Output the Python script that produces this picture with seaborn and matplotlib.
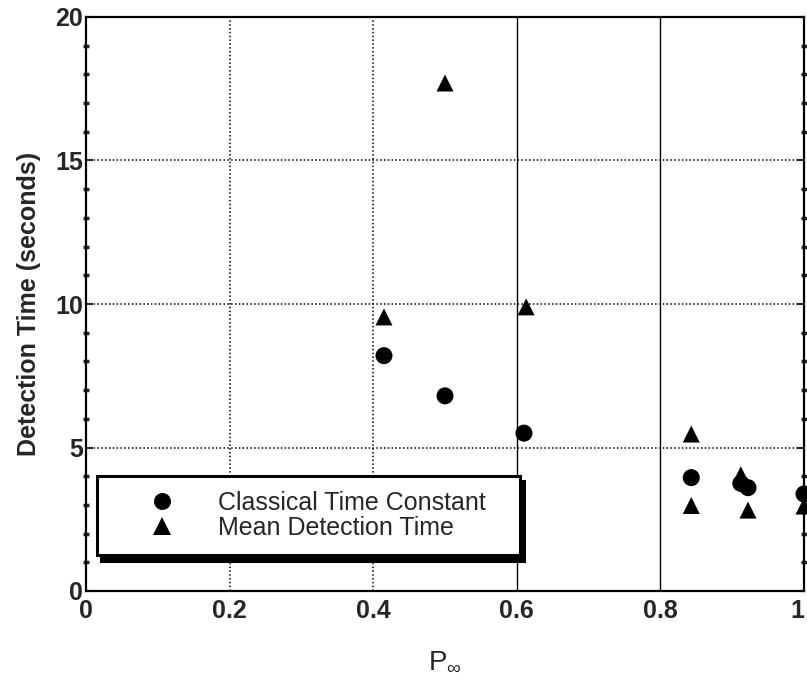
import numpy as np
import pandas as pd
import matplotlib
matplotlib.use("Agg")
import matplotlib.pyplot as plt
from matplotlib.ticker import MultipleLocator
import seaborn as sns

# ---- data ----
circ_x = [0.415, 0.50, 0.61, 0.843, 0.912, 0.922, 1.00]
circ_y = [8.2, 6.8, 5.5, 3.95, 3.75, 3.6, 3.38]
tri_x = [0.415, 0.50, 0.613, 0.843, 0.843, 0.912, 0.922, 1.00]
tri_y = [9.55, 17.7, 9.9, 5.47, 2.98, 4.05, 2.82, 2.96]
series_names = ["Classical Time Constant", "Mean Detection Time"]
x_ticks = [0, 0.2, 0.4, 0.6, 0.8, 1]
x_tick_labels = ["0", "0.2", "0.4", "0.6", "0.8", "1"]
y_ticks = [0, 5, 10, 15, 20]
y_tick_labels = ["0", "5", "10", "15", "20"]

df = pd.DataFrame({
    "P": circ_x + tri_x,
    "T": circ_y + tri_y,
    "Series": [series_names[0]] * len(circ_x) + [series_names[1]] * len(tri_x),
})

sns.set_style("white")
plt.rcParams["font.family"] = ["Liberation Sans", "DejaVu Sans"]
plt.rcParams["mathtext.fontset"] = "custom"
plt.rcParams["mathtext.rm"] = "Liberation Sans"
plt.rcParams["mathtext.it"] = "Liberation Sans"

fig = plt.figure(figsize=(8.07, 6.90), dpi=100)
ax = fig.add_axes([86 / 807, 1 - 591 / 690, (804 - 86) / 807, (591 - 17) / 690])

sns.scatterplot(
    data=df, x="P", y="T", style="Series",
    markers={series_names[0]: "o", series_names[1]: "^"},
    color="black", s=150, edgecolor="none", linewidth=0,
    ax=ax, zorder=5, clip_on=False,
)

ax.set_xlim(0, 1)
ax.set_ylim(0, 20)
ax.set_xticks(x_ticks)
ax.set_xticklabels(x_tick_labels, fontsize=18, fontweight="bold")
ax.get_xticklabels()[-1].set_horizontalalignment("right")
ax.set_yticks(y_ticks)
ax.set_yticklabels(y_tick_labels, fontsize=18, fontweight="bold")
ax.yaxis.set_minor_locator(MultipleLocator(1))
ax.tick_params(axis="y", which="major", direction="in", length=5, width=1.5,
               left=True, right=True, pad=2)
ax.tick_params(axis="y", which="minor", direction="inout", length=4, width=2.5,
               left=True, right=True)
ax.tick_params(axis="x", which="major", direction="in", length=0, pad=6)

for s in ax.spines.values():
    s.set_visible(True)
    s.set_color("black")
    s.set_linewidth(1.6)

ax.grid(True, axis="both", which="major", color="black", linestyle=(0, (1, 1.5)),
        linewidth=1.1)
xg = ax.get_xgridlines()
for i, gl in enumerate(xg):
    if x_ticks[i] in (0.6, 0.8):
        gl.set_linestyle("-")
        gl.set_linewidth(1.0)
ax.set_axisbelow(True)

ax.set_ylabel("Detection Time (seconds)", fontsize=18, fontweight="bold", labelpad=10)
ax.set_xlabel(r"P$_\infty$", fontsize=20, labelpad=18)

handles, labels = ax.get_legend_handles_labels()
if ax.get_legend() is not None:
    ax.get_legend().remove()
leg = ax.legend(
    handles, labels,
    loc="lower left", bbox_to_anchor=(11 / 718, 36 / 574, 423 / 718, 83 / 574),
    mode="expand", borderaxespad=0, fontsize=18, frameon=True, fancybox=False,
    borderpad=0.6, labelspacing=0.05, handlelength=4.0, handletextpad=0.25,
    shadow={"facecolor": "black", "edgecolor": "black", "alpha": 1, "ox": 3, "oy": -4},
    markerscale=1.0,
)
leg.get_frame().set_edgecolor("black")
leg.get_frame().set_linewidth(2.2)
leg.get_frame().set_facecolor("white")
leg.set_zorder(10)

fig.savefig("out.png", dpi=100)
